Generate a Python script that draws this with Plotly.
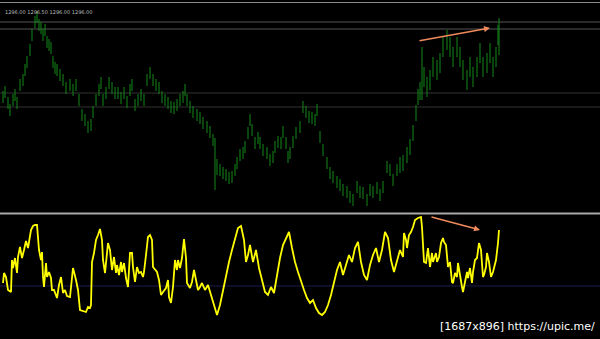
import plotly.graph_objects as go

# ---------------- price panel data (bar number, close, high, low) ----------------
price_bar = [3, 5, 8, 10, 13, 15, 17, 20, 23, 25, 27, 30, 32, 35, 37, 39, 41, 43, 45, 47,
             49, 51, 53, 55, 57, 60, 63, 66, 70, 73, 76, 79, 82, 85, 88, 91, 93, 96, 99, 101,
             103, 106, 109, 112, 115, 118, 121, 124, 127, 130, 132, 135, 138, 141, 144, 147, 150, 153, 156, 159,
             162, 165, 168, 171, 174, 177, 180, 183, 185, 187, 190, 193, 197, 200, 203, 207, 210, 213, 215, 217,
             220, 223, 226, 229, 232, 235, 237, 240, 243, 245, 248, 250, 252, 255, 258, 260, 263, 267, 270, 273,
             275, 278, 281, 283, 286, 288, 290, 293, 296, 300, 303, 306, 309, 312, 315, 317, 320, 323, 327, 330,
             333, 337, 340, 343, 347, 350, 353, 357, 360, 363, 367, 370, 373, 377, 380, 383, 387, 390, 393, 397,
             400, 403, 407, 410, 413, 416, 418, 420, 422, 424, 427, 430, 433, 437, 440, 443, 447, 450, 453, 457,
             460, 463, 467, 470, 473, 477, 480, 483, 487, 490, 493, 496, 498, 499]

price_close = [1303, 1308, 1297, 1290, 1300, 1305, 1297, 1315, 1320, 1330, 1338, 1350, 1365, 1378, 1383, 1375, 1372, 1365, 1370, 1358,
               1355, 1352, 1338, 1332, 1330, 1325, 1320, 1312, 1315, 1310, 1315, 1300, 1285, 1280, 1273, 1275, 1288, 1300, 1310, 1317,
               1300, 1307, 1317, 1312, 1307, 1307, 1302, 1307, 1298, 1310, 1315, 1295, 1300, 1305, 1300, 1320, 1327, 1320, 1315, 1312,
               1303, 1300, 1297, 1293, 1292, 1295, 1300, 1303, 1310, 1300, 1293, 1288, 1285, 1282, 1277, 1273, 1268, 1260, 1235, 1233,
               1230, 1227, 1225, 1222, 1223, 1230, 1237, 1245, 1247, 1253, 1267, 1280, 1270, 1257, 1262, 1257, 1250, 1247, 1240, 1243,
               1253, 1258, 1257, 1268, 1257, 1243, 1247, 1258, 1267, 1273, 1293, 1288, 1283, 1282, 1280, 1290, 1263, 1250, 1237, 1227,
               1223, 1218, 1215, 1210, 1208, 1203, 1200, 1213, 1208, 1207, 1200, 1210, 1208, 1212, 1205, 1213, 1233, 1230, 1220, 1230,
               1235, 1237, 1245, 1253, 1267, 1287, 1303, 1310, 1340, 1323, 1313, 1320, 1333, 1330, 1337, 1353, 1360, 1353, 1343, 1353,
               1343, 1330, 1320, 1333, 1323, 1333, 1347, 1333, 1337, 1347, 1333, 1343, 1367, 1380]

price_high = [1309, 1314, 1303, 1296, 1306, 1311, 1303, 1321, 1326, 1336, 1344, 1356, 1371, 1384, 1389, 1381, 1378, 1371, 1376, 1364,
              1361, 1358, 1344, 1338, 1336, 1331, 1326, 1318, 1321, 1316, 1321, 1306, 1291, 1286, 1279, 1281, 1294, 1306, 1316, 1323,
              1306, 1313, 1323, 1318, 1313, 1313, 1308, 1313, 1304, 1316, 1321, 1301, 1306, 1311, 1306, 1326, 1333, 1326, 1321, 1318,
              1309, 1306, 1303, 1299, 1298, 1301, 1306, 1309, 1316, 1306, 1299, 1294, 1291, 1288, 1283, 1279, 1274, 1266, 1262, 1241,
              1236, 1233, 1231, 1228, 1229, 1236, 1243, 1251, 1253, 1259, 1273, 1286, 1276, 1263, 1268, 1263, 1256, 1253, 1246, 1249,
              1259, 1264, 1263, 1274, 1263, 1249, 1253, 1264, 1273, 1279, 1299, 1294, 1289, 1288, 1286, 1296, 1269, 1256, 1243, 1233,
              1229, 1224, 1221, 1216, 1214, 1209, 1206, 1219, 1214, 1213, 1206, 1216, 1214, 1218, 1211, 1219, 1239, 1236, 1226, 1236,
              1243, 1245, 1253, 1261, 1275, 1295, 1311, 1318, 1353, 1333, 1323, 1330, 1343, 1340, 1347, 1363, 1370, 1363, 1353, 1363,
              1353, 1340, 1330, 1343, 1333, 1343, 1357, 1343, 1347, 1357, 1343, 1353, 1375, 1382]

price_low = [1297, 1302, 1291, 1284, 1294, 1299, 1291, 1309, 1314, 1324, 1332, 1344, 1359, 1372, 1377, 1369, 1366, 1359, 1364, 1352,
             1349, 1346, 1332, 1326, 1324, 1319, 1314, 1306, 1309, 1304, 1309, 1294, 1279, 1274, 1267, 1269, 1282, 1294, 1304, 1311,
             1294, 1301, 1311, 1306, 1301, 1301, 1296, 1301, 1292, 1304, 1309, 1289, 1294, 1299, 1294, 1314, 1321, 1314, 1309, 1306,
             1297, 1294, 1291, 1287, 1286, 1289, 1294, 1297, 1304, 1294, 1287, 1282, 1279, 1276, 1271, 1267, 1262, 1254, 1210, 1225,
             1224, 1221, 1219, 1216, 1217, 1224, 1231, 1239, 1241, 1247, 1261, 1274, 1264, 1251, 1256, 1251, 1244, 1241, 1234, 1237,
             1247, 1252, 1251, 1262, 1251, 1237, 1241, 1252, 1261, 1267, 1287, 1282, 1277, 1276, 1274, 1284, 1257, 1244, 1231, 1221,
             1217, 1212, 1209, 1204, 1202, 1197, 1194, 1207, 1202, 1201, 1194, 1204, 1202, 1206, 1199, 1207, 1227, 1224, 1214, 1224,
             1227, 1229, 1237, 1245, 1259, 1279, 1295, 1300, 1300, 1313, 1303, 1310, 1323, 1320, 1327, 1343, 1350, 1343, 1333, 1343,
             1333, 1320, 1310, 1323, 1313, 1323, 1337, 1323, 1327, 1337, 1323, 1333, 1355, 1345]

# open of each bar = close of previous bar
price_open = [price_close[0]] + price_close[:-1]

# horizontal price levels drawn on the chart
level_bright = [1378, 1371]
level_dim = [1307, 1293]

# ---------------- oscillator panel data ----------------
osc_bar = [3, 4, 6, 8, 11, 12, 13, 15, 17, 18, 20, 22, 24, 26, 28, 31, 33, 35, 37, 39,
           41, 42, 43, 44, 46, 47, 49, 51, 52, 54, 57, 59, 61, 63, 65, 67, 70, 72, 73, 76,
           78, 80, 83, 86, 88, 90, 91, 92, 94, 96, 98, 100, 102, 103, 105, 107, 108, 110, 112, 114,
           116, 117, 119, 121, 122, 124, 126, 128, 130, 132, 133, 135, 137, 139, 141, 143, 144, 146, 148, 150,
           152, 153, 155, 157, 159, 161, 163, 166, 168, 169, 171, 173, 175, 177, 178, 180, 182, 184, 186, 187,
           190, 192, 194, 196, 198, 200, 202, 205, 208, 211, 214, 217, 220, 223, 226, 229, 232, 235, 238, 241,
           244, 246, 248, 250, 253, 256, 259, 262, 265, 268, 271, 274, 277, 280, 283, 286, 289, 292, 295, 298,
           301, 304, 307, 310, 313, 316, 319, 322, 325, 328, 331, 334, 337, 340, 343, 346, 349, 352, 355, 358,
           361, 364, 367, 370, 373, 376, 379, 382, 385, 388, 391, 394, 397, 400, 403, 404, 406, 407, 409, 411,
           413, 415, 418, 421, 422, 424, 426, 428, 430, 432, 433, 436, 437, 439, 441, 443, 444, 446, 448, 450,
           452, 453, 455, 457, 458, 460, 462, 463, 465, 467, 468, 470, 472, 473, 475, 477, 479, 481, 483, 484,
           486, 487, 489, 491, 493, 496, 498, 499]

osc_value = [56, 66, 62, 49, 47, 79, 71, 81, 66, 82, 92, 81, 89, 98, 91, 109, 113, 114, 114, 89,
             79, 87, 62, 52, 76, 62, 67, 61, 49, 49, 41, 54, 62, 46, 49, 43, 42, 62, 71, 59,
             49, 29, 28, 27, 32, 31, 34, 77, 86, 99, 104, 110, 99, 79, 66, 91, 96, 89, 69, 82,
             66, 74, 64, 77, 67, 76, 61, 52, 86, 86, 72, 57, 72, 66, 67, 62, 67, 84, 102, 104,
             99, 72, 69, 67, 59, 44, 47, 51, 59, 42, 36, 52, 79, 69, 79, 71, 81, 100, 81, 56,
             51, 57, 69, 57, 49, 52, 56, 49, 54, 44, 34, 24, 34, 49, 64, 77, 89, 99, 111, 113,
             99, 77, 84, 94, 77, 89, 71, 59, 47, 44, 52, 46, 64, 81, 94, 101, 107, 91, 77, 67,
             57, 49, 41, 36, 39, 31, 26, 24, 27, 34, 44, 56, 69, 77, 64, 74, 84, 77, 91, 97,
             77, 64, 59, 74, 84, 91, 77, 89, 107, 101, 79, 67, 77, 89, 82, 106, 99, 91, 104, 107,
             112, 119, 121, 122, 112, 77, 76, 91, 72, 86, 77, 86, 77, 82, 96, 101, 97, 94, 72, 77,
             57, 56, 66, 62, 76, 62, 52, 47, 57, 67, 61, 71, 56, 67, 79, 81, 96, 89, 62, 64,
             72, 86, 77, 62, 67, 79, 96, 109]

osc_level = 53

# divergence arrows (start bar, start value, end bar, end value)
price_arrow = [418, 1359, 490, 1372]
osc_arrow = [430, 122.5, 480, 109]

header_text = "1296.00 1296.50 1296.00 1296.00"
watermark_text = "[1687x896] https://upic.me/"

# ---------------- figure ----------------
W, H = 600, 339
top_dom = [(H - 212) / H, (H - 3) / H]
bot_dom = [0, (H - 216) / H]

fig = go.Figure()

fig.add_trace(go.Ohlc(
    x=price_bar, open=price_open, high=price_high, low=price_low, close=price_close,
    increasing=dict(line=dict(color="#14881a", width=1)),
    decreasing=dict(line=dict(color="#14881a", width=1)),
    tickwidth=0.12, xaxis="x", yaxis="y", showlegend=False, hoverinfo="skip",
))

fig.add_trace(go.Scatter(
    x=osc_bar, y=osc_value, mode="lines",
    line=dict(color="#ffff00", width=1.8),
    xaxis="x", yaxis="y2", showlegend=False, hoverinfo="skip",
))

shapes = []
for lv in level_bright:
    shapes.append(dict(type="line", xref="paper", yref="y", x0=0, x1=1, y0=lv, y1=lv,
                       line=dict(color="#555555", width=1), layer="below"))
for lv in level_dim:
    shapes.append(dict(type="line", xref="paper", yref="y", x0=0, x1=1, y0=lv, y1=lv,
                       line=dict(color="#333333", width=1), layer="below"))
# top border
shapes.append(dict(type="line", xref="paper", yref="paper", x0=0, x1=1,
                   y0=(H - 2.5) / H, y1=(H - 2.5) / H, line=dict(color="#8a8a8a", width=1)))
# panel separator
shapes.append(dict(type="line", xref="paper", yref="paper", x0=0, x1=1,
                   y0=(H - 213.5) / H, y1=(H - 213.5) / H, line=dict(color="#a8a8a8", width=2)))
# oscillator level
shapes.append(dict(type="line", xref="paper", yref="y2", x0=0, x1=1, y0=osc_level, y1=osc_level,
                   line=dict(color="#1c1c50", width=1), layer="below"))

annotations = [
    dict(x=price_arrow[2], y=price_arrow[3], ax=price_arrow[0], ay=price_arrow[1],
         xref="x", yref="y", axref="x", ayref="y", showarrow=True, text="",
         arrowhead=2, arrowsize=0.8, arrowwidth=1.5, arrowcolor="#f08a5d"),
    dict(x=osc_arrow[2], y=osc_arrow[3], ax=osc_arrow[0], ay=osc_arrow[1],
         xref="x", yref="y2", axref="x", ayref="y2", showarrow=True, text="",
         arrowhead=2, arrowsize=0.8, arrowwidth=1.5, arrowcolor="#f08a5d"),
    dict(x=3 / W, y=(H - 7) / H, xref="paper", yref="paper", xanchor="left", yanchor="top",
         text=header_text, showarrow=False, font=dict(family="DejaVu Sans", size=5, color="#bdbdbd")),
    dict(x=597 / W, y=4 / H, xref="paper", yref="paper", xanchor="right", yanchor="bottom",
         text=watermark_text, showarrow=False,
         font=dict(family="DejaVu Sans", size=11, color="#ffffff")),
]

fig.update_layout(
    width=W, height=H,
    margin=dict(l=0, r=0, t=0, b=0),
    paper_bgcolor="#000000", plot_bgcolor="#000000",
    xaxis=dict(range=[0, 600], visible=False, showgrid=False, zeroline=False,
               rangeslider=dict(visible=False), anchor="y2"),
    yaxis=dict(domain=top_dom, range=[1188, 1397], visible=False, showgrid=False, zeroline=False),
    yaxis2=dict(domain=bot_dom, range=[0, 123], visible=False, showgrid=False, zeroline=False),
    shapes=shapes,
    annotations=annotations,
)

fig.write_html("out.html")
